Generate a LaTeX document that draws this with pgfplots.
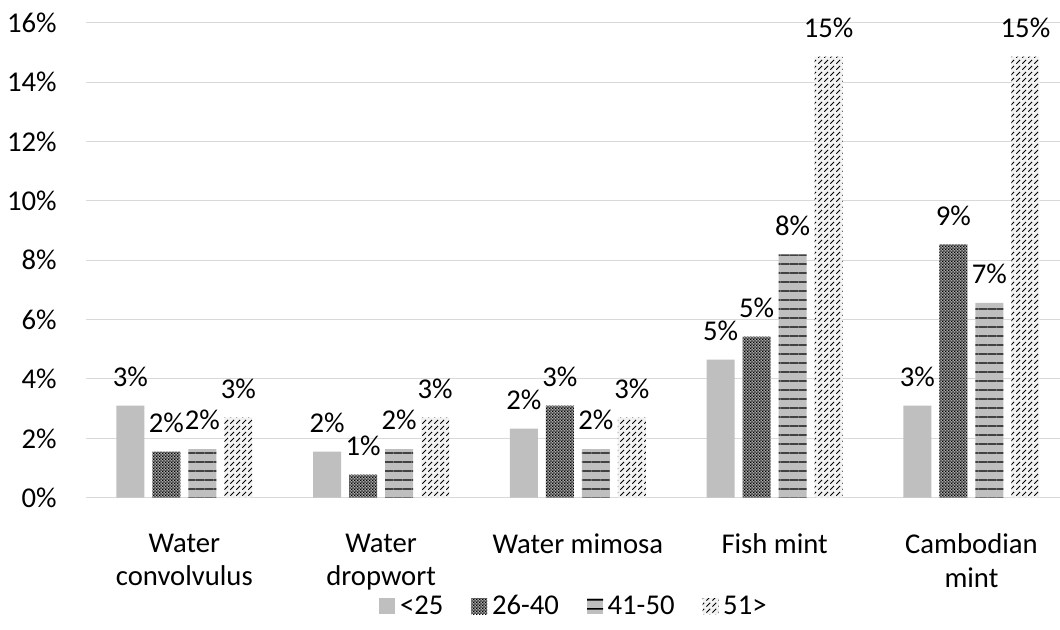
\documentclass[border=0pt]{standalone}
\usepackage{pgfplots}
\pgfplotsset{compat=1.18}
\usepackage{fontspec}
\setmainfont{Carlito}
\usetikzlibrary{patterns.meta}

\definecolor{gridgray}{HTML}{D9D9D9}
\definecolor{barlight}{HTML}{BFBFBF}
\definecolor{checkbg}{HTML}{A6A6A6}
\definecolor{hatchbg}{HTML}{F2F2F2}

\newcommand{\chartfont}{\fontsize{21.5}{25}\selectfont}

% fill textures for the age groups
\tikzdeclarepattern{
  name=checker, type=uncolored,
  bottom left={(0pt,0pt)}, top right={(2.4pt,2.4pt)}, tile size={(2.4pt,2.4pt)},
  code={\fill (0pt,0pt) rectangle (1.2pt,1.2pt); \fill (1.2pt,1.2pt) rectangle (2.4pt,2.4pt);}
}
\tikzdeclarepattern{
  name=hstripes, type=uncolored,
  bottom left={(0pt,0pt)}, top right={(6.4pt,6.4pt)}, tile size={(6.4pt,6.4pt)},
  code={\fill (-0.5pt,2.7pt) rectangle (6.9pt,3.7pt);}
}
\tikzdeclarepattern{
  name=diagdash, type=uncolored,
  bottom left={(0pt,0pt)}, top right={(4.2pt,4.2pt)}, tile size={(4.2pt,4.2pt)},
  code={\draw[line width=0.65pt] (0.3pt,0.3pt) -- (3.3pt,3.3pt);}
}

\begin{document}
\begin{tikzpicture}
\useasboundingbox (0pt,0pt) rectangle (795pt,472.5pt);
\begin{axis}[
  at={(64.5pt,99.2pt)}, anchor=south west,
  scale only axis, width=730.5pt, height=356.25pt,
  ybar=6pt, bar width=21pt,
  xmin=-0.5, xmax=4.45, ymin=0, ymax=16,
  clip=false,
  /pgf/number format/assume math mode=true,
  xtick={0,1,2,3,4},
  xticklabels={{Water\\convolvulus},{Water\\dropwort},{Water mimosa},{Fish mint},{Cambodian\\mint}},
  xticklabel style={font=\chartfont, align=center, anchor=north, inner sep=0pt, yshift=-27pt},
  ytick={0,2,...,16},
  yticklabel={\pgfmathprintnumber{\tick}\%},
  yticklabel style={font=\chartfont, anchor=east, inner sep=0pt, xshift=-21.75pt},
  major tick length=0pt,
  ymajorgrids, grid style={draw=gridgray, line width=0.75pt},
  axis lines*=left,
  axis line style={-},
  y axis line style={draw=none},
  x axis line style={draw=gridgray, line width=0.75pt},
  nodes near coords={\chartfont\pgfmathprintnumber[fixed,precision=0]{\pgfplotspointmeta}\%},
  every node near coord/.append style={anchor=south, inner sep=0pt, yshift=14pt, text=black},
  legend columns=4,
  legend style={at={(0.5,-0.228)}, anchor=center, draw=none, fill=none, font=\chartfont,
    /tikz/every even column/.append style={column sep=21pt},
    /tikz/every odd column/.append style={column sep=3.5pt},
    nodes={inner sep=0pt}},
  legend image code/.code={\draw[#1,draw=none] (0pt,-6pt) rectangle (12pt,6pt);},
]
% under 25
\addplot[fill=barlight, draw=none]
  coordinates {(0,3.10) (1,1.55) (2,2.33) (3,4.65) (4,3.10)};
% 26 to 40
\addplot[fill=checkbg, draw=none, postaction={pattern=checker, pattern color=black}]
  coordinates {(0,1.55) (1,0.78) (2,3.10) (3,5.43) (4,8.53)};
% 41 to 50
\addplot[fill=barlight, draw=none, postaction={pattern=hstripes, pattern color=black}]
  coordinates {(0,1.64) (1,1.64) (2,1.64) (3,8.20) (4,6.56)};
% over 51
\addplot[fill=hatchbg, draw=none, postaction={pattern=diagdash, pattern color=black}]
  coordinates {(0,2.70) (1,2.70) (2,2.70) (3,14.86) (4,14.86)};
\legend{<25, 26-40, 41-50, 51>}
\end{axis}
\end{tikzpicture}
\end{document}
